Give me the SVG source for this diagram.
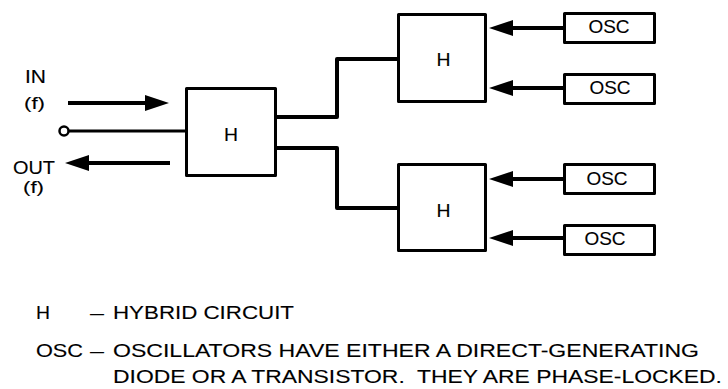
<svg xmlns="http://www.w3.org/2000/svg" width="728" height="389" viewBox="0 0 728 389">
<style>
.box{fill:#fff;stroke:#000;stroke-width:3;stroke-linejoin:round}
.t{font-family:"Liberation Sans",Arial,Helvetica,sans-serif;font-size:17.5px;fill:#000;stroke:#000;stroke-width:0.12;white-space:pre}
.s{font-size:16px}
.c{text-anchor:middle}
.ln{fill:none;stroke:#000;stroke-width:4;stroke-linejoin:round}
.ar{fill:none;stroke:#000;stroke-width:4;marker-end:url(#ah)}
</style>
<defs>
<marker id="ah" viewBox="0 0 24 16" refX="0" refY="8" markerWidth="24" markerHeight="16" markerUnits="userSpaceOnUse" orient="auto">
<path d="M0,0 L24,8 L0,16 Z" fill="#000"/>
</marker>
</defs>
<rect width="728" height="389" fill="#fff"/>
<g id="connectors">
<path class="ar" d="M68,103 H145"/>
<path class="ln" d="M69,131 H185" style="stroke-width:3"/>
<circle cx="64" cy="131" r="4.5" fill="#fff" stroke="#000" stroke-width="2.5"/>
<path class="ar" d="M170,163 H89"/>
<path class="ln" d="M277,117 H337 V59 H397"/>
<path class="ln" d="M277,148 H337 V208 H397"/>
<path class="ar" d="M564,28 H513"/>
<path class="ar" d="M564,88 H513"/>
<path class="ar" d="M564,179 H513"/>
<path class="ar" d="M564,238 H513"/>
</g>
<g id="io-labels">
<text class="t" x="25" y="83" textLength="21" lengthAdjust="spacingAndGlyphs">IN</text>
<text class="t s" x="24" y="109" textLength="21" lengthAdjust="spacingAndGlyphs">(f)</text>
<text class="t" x="13" y="174" textLength="42" lengthAdjust="spacingAndGlyphs">OUT</text>
<text class="t s" x="23" y="193" textLength="21" lengthAdjust="spacingAndGlyphs">(f)</text>
</g>
<g id="h-main">
<rect class="box" x="186.5" y="88.5" width="89" height="87"/>
<text class="t c" x="231" y="141" textLength="14" lengthAdjust="spacingAndGlyphs">H</text>
</g>
<g id="h-top">
<rect class="box" x="398.5" y="14.5" width="87" height="87"/>
<text class="t c" x="443.5" y="66" textLength="14" lengthAdjust="spacingAndGlyphs">H</text>
</g>
<g id="h-bottom">
<rect class="box" x="398.5" y="164.5" width="87" height="86"/>
<text class="t c" x="443.5" y="217" textLength="14" lengthAdjust="spacingAndGlyphs">H</text>
</g>
<g id="osc-1">
<rect class="box" x="564.5" y="13.5" width="90" height="29"/>
<text class="t c" x="609" y="33" textLength="41" lengthAdjust="spacingAndGlyphs">OSC</text>
</g>
<g id="osc-2">
<rect class="box" x="564.5" y="74.5" width="90" height="29"/>
<text class="t c" x="610" y="94" textLength="41" lengthAdjust="spacingAndGlyphs">OSC</text>
</g>
<g id="osc-3">
<rect class="box" x="564.5" y="164.5" width="90" height="29"/>
<text class="t c" x="607" y="185" textLength="41" lengthAdjust="spacingAndGlyphs">OSC</text>
</g>
<g id="osc-4">
<rect class="box" x="564.5" y="225.5" width="90" height="29"/>
<text class="t c" x="605" y="245" textLength="41" lengthAdjust="spacingAndGlyphs">OSC</text>
</g>
<g id="legend">
<text class="t" x="36" y="319" textLength="14" lengthAdjust="spacingAndGlyphs">H</text>
<text class="t" x="90" y="319" textLength="14" lengthAdjust="spacingAndGlyphs">–</text>
<text class="t" x="113" y="319" textLength="181" lengthAdjust="spacingAndGlyphs">HYBRID CIRCUIT</text>
<text class="t" x="36" y="357" textLength="47" lengthAdjust="spacingAndGlyphs">OSC</text>
<text class="t" x="90" y="357" textLength="14" lengthAdjust="spacingAndGlyphs">–</text>
<text class="t" x="113" y="357" textLength="586" lengthAdjust="spacingAndGlyphs">OSCILLATORS HAVE EITHER A DIRECT-GENERATING</text>
<text class="t" x="113" y="383" textLength="609" lengthAdjust="spacingAndGlyphs">DIODE OR A TRANSISTOR.  THEY ARE PHASE-LOCKED.</text>
</g>
</svg>
